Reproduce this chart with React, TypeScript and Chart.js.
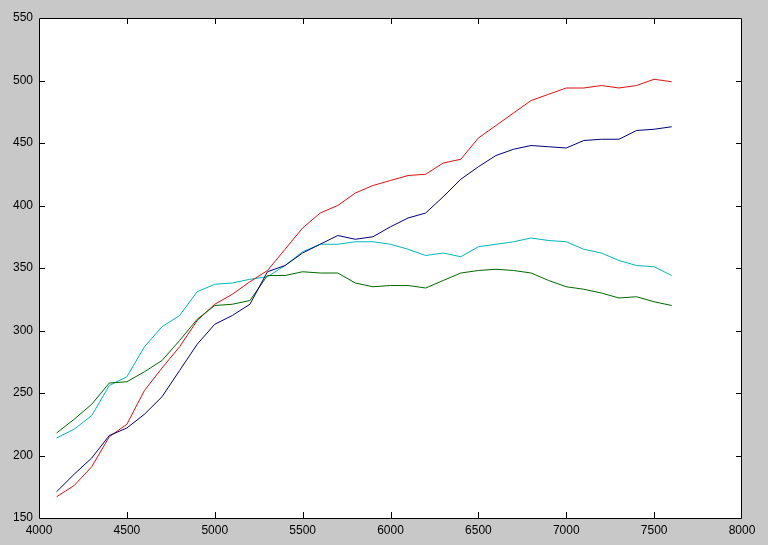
import React, { useRef, useEffect } from "react";
import Chart from "chart.js/auto";

// engine speed samples along the x axis
const rpm = [
	4100, 4200, 4300, 4400, 4500, 4600, 4700, 4800, 4900, 5000, 5100, 5200,
	5300, 5400, 5500, 5600, 5700, 5800, 5900, 6000, 6100, 6200, 6300, 6400,
	6500, 6600, 6700, 6800, 6900, 7000, 7100, 7200, 7300, 7400, 7500, 7600,
];

const redSeries = [
	167, 176, 191, 215, 225, 252, 270, 287, 308, 321, 329, 339,
	348, 365, 382, 394, 400, 410, 416, 420, 424, 425, 434, 437,
	454, 464, 474, 484, 489, 494, 494, 496, 494, 496, 501, 499,
];

const blueSeries = [
	171, 185, 198, 216, 222, 233, 247, 268, 289, 305, 312, 321,
	347, 352, 362, 369, 376, 373, 375, 383, 390, 394, 407, 421,
	431, 440, 445, 448, 447, 446, 452, 453, 453, 460, 461, 463,
];

const cyanSeries = [
	214, 221, 232, 256, 263, 287, 303, 312, 331, 337, 338, 341,
	343, 352, 363, 369, 369, 371, 371, 369, 365, 360, 362, 359,
	367, 369, 371, 374, 372, 371, 365, 362, 356, 352, 351, 344,
];

const greenSeries = [
	218, 229, 241, 258, 259, 267, 276, 292, 309, 320, 321, 324,
	344, 344, 347, 346, 346, 338, 335, 336, 336, 334, 340, 346,
	348, 349, 348, 346, 340, 335, 333, 330, 326, 327, 323, 320,
];

const xTicks = [4000, 4500, 5000, 5500, 6000, 6500, 7000, 7500, 8000];
const yTicks = [150, 200, 250, 300, 350, 400, 450, 500, 550];

const toPoints = (ys: number[]) => rpm.map((x, i) => ({ x, y: ys[i] }));

// white plot box, black frame and inward tick marks like the old matlab axes
const boxPlugin = {
	id: "box",
	beforeDraw(chart: any) {
		const { ctx, chartArea } = chart;
		ctx.save();
		ctx.fillStyle = "#ffffff";
		ctx.fillRect(chartArea.left, chartArea.top, chartArea.right - chartArea.left, chartArea.bottom - chartArea.top);
		ctx.restore();
	},
	afterDraw(chart: any) {
		const { ctx, chartArea, scales } = chart;
		const { left, right, top, bottom } = chartArea;
		const len = 6;
		ctx.save();
		ctx.strokeStyle = "#000000";
		ctx.lineWidth = 1;
		ctx.beginPath();
		ctx.rect(Math.round(left) + 0.5, Math.round(top) + 0.5, Math.round(right - left) - 1, Math.round(bottom - top));
		xTicks.slice(1, -1).forEach((v) => {
			const px = Math.round(scales.x.getPixelForValue(v)) + 0.5;
			ctx.moveTo(px, bottom);
			ctx.lineTo(px, bottom - len);
			ctx.moveTo(px, top);
			ctx.lineTo(px, top + len);
		});
		yTicks.slice(1, -1).forEach((v) => {
			const py = Math.round(scales.y.getPixelForValue(v)) + 0.5;
			ctx.moveTo(left, py);
			ctx.lineTo(left + len, py);
			ctx.moveTo(right, py);
			ctx.lineTo(right - len, py);
		});
		ctx.stroke();
		ctx.restore();
	},
};

const App: React.FC = () => {
	const chartRef = useRef<HTMLCanvasElement | null>(null);
	const chartInstance = useRef<Chart | null>(null);

	useEffect(() => {
		document.body.style.margin = "0";

		if (chartInstance.current) {
			chartInstance.current.destroy();
			chartInstance.current = null;
		}

		if (chartRef.current) {
			const ctx = chartRef.current.getContext("2d");
			const font = { family: "'Liberation Sans', Arial, sans-serif", size: 12 };

			const line = (ys: number[], color: string) => ({
				data: toPoints(ys),
				borderColor: color,
				backgroundColor: color,
				borderWidth: 1,
				pointRadius: 0,
				tension: 0,
				fill: false,
			});

			chartInstance.current = new Chart(ctx as CanvasRenderingContext2D, {
				type: "line",
				data: {
					datasets: [
						line(blueSeries, "#00007f"),
						line(greenSeries, "#006a00"),
						line(redSeries, "#e01010"),
						line(cyanSeries, "#00b8c0"),
					],
				},
				options: {
					animation: false,
					responsive: false,
					maintainAspectRatio: false,
					layout: { padding: { top: 18, right: 26, left: 0, bottom: 0 } },
					plugins: {
						legend: { display: false },
						tooltip: { enabled: false },
					},
					scales: {
						x: {
							type: "linear",
							min: 4000,
							max: 8000,
							afterBuildTicks: (scale: any) => {
								scale.ticks = xTicks.map((value) => ({ value }));
							},
							afterFit: (scale: any) => {
								scale.height = 27;
							},
							grid: { display: false, drawTicks: false },
							border: { display: false },
							ticks: {
								color: "#000000",
								font,
								padding: 5,
								maxRotation: 0,
								autoSkip: false,
								callback: (v: any) => String(v),
							},
						},
						y: {
							type: "linear",
							min: 150,
							max: 550,
							afterBuildTicks: (scale: any) => {
								scale.ticks = yTicks.map((value) => ({ value }));
							},
							afterFit: (scale: any) => {
								scale.width = 39;
							},
							grid: { display: false, drawTicks: false },
							border: { display: false },
							ticks: {
								color: "#000000",
								font,
								padding: 6,
								autoSkip: false,
								callback: (v: any) => String(v),
							},
						},
					},
				},
				plugins: [boxPlugin],
			});
		}

		return () => {
			if (chartInstance.current) {
				chartInstance.current.destroy();
				chartInstance.current = null;
			}
		};
	}, []);

	return (
		<div style={{ width: 768, height: 545, background: "#c8c8c8" }}>
			<canvas ref={chartRef} width={768} height={545} style={{ display: "block" }}></canvas>
		</div>
	);
};

export default App;
